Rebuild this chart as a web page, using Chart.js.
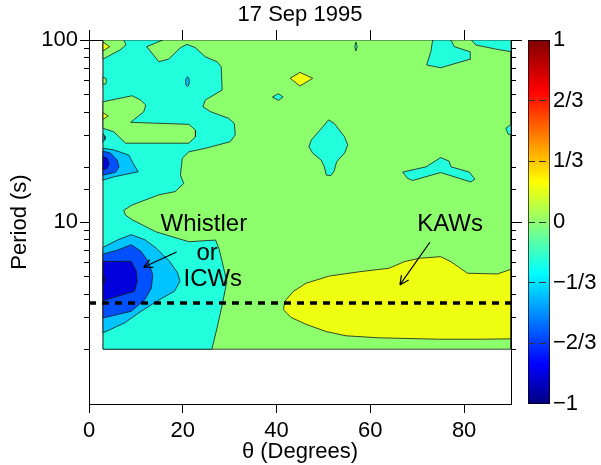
<!DOCTYPE html>
<html>
<head>
<meta charset="utf-8">
<script src="https://cdn.jsdelivr.net/npm/chart.js@4.4.1/dist/chart.umd.min.js"></script>
<style>
  html, body { margin: 0; padding: 0; overflow: hidden; background: #fff; width: 601px; height: 465px; }
  #main { position: absolute; left: 0; top: 0; }
  #bar { position: absolute; left: 515px; top: 0; }
</style>
</head>
<body>
<canvas id="main" width="601" height="465"></canvas>
<canvas id="bar" width="120" height="465"></canvas>
<script>
// contour regions: [theta (deg), period (s)]
const dataArea = [[3, 2], [3, 100], [90, 100], [90, 2]];
const cyanLeft = [[3, 100], [15.7, 100], [12.3, 91.9], [14.9, 76.0], [17.0, 78.6], [19.5, 90.7], [20.9, 94.7], [22.7, 90.7], [24.8, 80.9], [27.3, 76.0], [28.2, 71.3], [28.4, 53.1], [24.8, 46.8], [24.3, 43.0], [25.9, 40.4], [29.8, 37.1], [31.0, 34.8], [31.2, 30.1], [30.1, 27.6], [24.8, 25.4], [21.3, 24.3], [19.9, 22.4], [19.5, 18.1], [20.2, 16.3], [18.4, 14.7], [14.9, 14.1], [9.2, 12.4], [7.4, 11.6], [7.8, 10.9], [9.2, 10.3], [14.2, 8.85], [21.3, 7.79], [27.0, 7.96], [27.7, 7.17], [28.4, 6.05], [29.4, 4.70], [28.4, 3.50], [27.3, 2.61], [26.2, 2], [3, 2]];
const greenCorner = [[3, 100], [7.4, 100], [7.9, 93.9], [6.6, 88.1], [3, 78.6]];
const yellowCorner = [[3, 97.3], [4.4, 91.9], [3, 87.2]];
const greenSpeck = [[3, 62.5], [3.6, 61.5], [3.7, 59], [3.6, 57.5], [3, 57]];
const greenTongue = [[3, 45.8], [9.2, 49.4], [11.0, 46.8], [12.1, 43.9], [11.7, 40.4], [8.9, 35.3], [21.3, 34.4], [22.7, 32.0], [22.7, 29.4], [21.3, 27.1], [7.8, 27.1], [5.3, 31.3], [3, 32.7]];
const yellowTongue = [[3, 39.9], [4.1, 38.2], [3, 36.7]];
const blueSliver = [[3, 30.6], [3.4, 29.6], [3.4, 28.4], [3, 27.6]];
const blueOval = [[21.0, 62.9], [21.3, 61.4], [21.4, 59.0], [21.3, 56.6], [21.0, 55.4], [20.7, 56.6], [20.6, 59.0], [20.7, 61.4]];
const cyanDiamond = [[39.1, 48.6], [40.4, 50.7], [41.4, 48.6], [40.4, 46.6]];
const upperLightBlue = [[3, 25.4], [5.3, 24.9], [8.5, 23.3], [9.6, 20.6], [10.5, 18.9], [7.1, 18.1], [5.3, 17.7], [3, 17.0]];
const upperBlue = [[3, 24.5], [4.6, 23.9], [6.0, 21.9], [6.4, 20.1], [5.7, 18.8], [3.9, 18.3], [3, 18.1]];
const upperDarkBlue = [[3, 22.9], [3.9, 22.4], [4.3, 21.0], [3.9, 19.7], [3, 19.3]];
const lowerLightBlue = [[3, 7.26], [6.2, 7.99], [9.0, 8.52], [11.9, 7.99], [14.3, 7.20], [17.2, 6.08], [18.9, 5.25], [19.4, 4.72], [18.2, 4.16], [15.0, 3.74], [11.1, 3.23], [7.6, 2.79], [3, 2.46]];
const lowerBlue = [[3, 6.67], [6.0, 7.0], [9.0, 7.50], [11.1, 6.90], [12.6, 6.08], [13.6, 5.13], [13.3, 4.34], [11.9, 3.74], [9.0, 3.23], [3, 2.97]];
const lowerDarkBlue = [[3, 6.08], [9.0, 6.08], [10.1, 5.36], [10.3, 4.72], [9.7, 4.16], [3, 3.70]];
const lowerCore = [[3, 5.14], [3.7, 4.82], [3, 4.56]];
const cyanTopBlob = [[73.3, 100], [72.9, 86.2], [72.0, 72.9], [75.0, 70.4], [81.4, 78.6], [81.3, 86.2], [77.9, 91.9], [77.2, 100]];
const cyanTopCorner = [[81.6, 100], [82.5, 93.9], [86.7, 89.2], [90, 86.2], [90, 100]];
const cyanTiny = [[56.7, 91.9], [56.9, 97.5], [57.2, 91.9], [56.9, 87.0]];
const yellowDiamond = [[42.9, 61.6], [45.0, 66.4], [47.7, 61.6], [45.0, 55.9]];
const cyanMid = [[51.1, 36.4], [49.9, 33.4], [47.4, 28.2], [46.9, 25.9], [47.7, 23.9], [49.5, 21.9], [50.2, 20.1], [50.6, 18.1], [51.6, 18.0], [52.3, 19.1], [52.8, 21.4], [54.5, 23.9], [55.2, 26.5], [54.5, 29.4], [52.3, 34.8]];
const cyanChevron = [[66.9, 18.8], [71.9, 20.1], [75.0, 22.6], [76.8, 21.6], [77.2, 20.1], [81.1, 18.8], [82.3, 17.2], [81.4, 16.6], [75.0, 18.7], [69.0, 16.9], [67.9, 17.4]];
const cyanEdge = [[90, 34.4], [88.9, 32.7], [89.4, 30.4], [90, 30.1]];
const yellowKaw = [[41.7, 3.65], [43.5, 4.14], [46.3, 4.61], [51.3, 5.05], [57.7, 5.33], [64.0, 5.57], [67.2, 6.05], [70.4, 6.32], [75.0, 6.45], [77.2, 6.05], [80.7, 5.23], [87.1, 5.18], [90, 5.50], [90, 2.28], [83.2, 2.27], [74.7, 2.27], [61.9, 2.31], [54.8, 2.37], [50.6, 2.50], [46.3, 2.74], [43.1, 2.99], [41.5, 3.29]];

// painted in this order, later on top
const regions = [
  [dataArea, "green"], [cyanLeft, "cyan"], [greenCorner, "green"], [yellowCorner, "yellow"],
  [greenSpeck, "green"], [greenTongue, "green"], [yellowTongue, "yellow"], [blueSliver, "lightBlue"],
  [blueOval, "lightBlue"], [cyanDiamond, "cyan"],
  [upperLightBlue, "lightBlue"], [upperBlue, "blue"], [upperDarkBlue, "darkBlue"],
  [lowerLightBlue, "lightBlue"], [lowerBlue, "blue"], [lowerDarkBlue, "darkBlue"], [lowerCore, "navy"],
  [cyanTopBlob, "cyan"], [cyanTopCorner, "cyan"], [cyanTiny, "cyan"], [yellowDiamond, "yellow"],
  [cyanMid, "cyan"], [cyanChevron, "cyan"], [cyanEdge, "cyan"], [yellowKaw, "yellow"]
];

const levelColors = {
  yellow: "#eeff12", green: "#8dff6d", cyan: "#22ffdd", lightBlue: "#00c4ff",
  blue: "#0050ff", darkBlue: "#0000dc", navy: "#0000a8"
};

const cutoffPeriod = 3.59;
const xTicks = [0, 20, 40, 60, 80];
const yLabelled = [10, 100];
const barTicks = [-1, -2 / 3, -1 / 3, 0, 1 / 3, 2 / 3, 1];
const barLabels = ["\u22121", "\u22122/3", "\u22121/3", "0", "1/3", "2/3", "1"];
const notes = [
  { text: "Whistler", at: [24.5, 8.96] },
  { text: "or", at: [25.2, 6.22] },
  { text: "ICWs", at: [26.4, 4.47] },
  { text: "KAWs", at: [77.0, 8.92] }
];
const arrows = [
  { from: [18.7, 6.84], to: [11.6, 5.64] },
  { from: [72.7, 7.74], to: [66.3, 4.51] }
];

const FONT = "'Liberation Sans', Arial, Helvetica, sans-serif";
Chart.defaults.font.family = FONT;
Chart.defaults.font.size = 22;
Chart.defaults.color = "#000";

const toPoints = (pts) => pts.concat([pts[0]]).map(p => ({ x: p[0], y: p[1] }));

let datasets = regions.map(([pts, level], i) => ({
  data: toPoints(pts),
  showLine: true,
  fill: "shape",
  backgroundColor: levelColors[level],
  borderColor: "#1a1a1a",
  borderWidth: 0.8,
  pointRadius: 0,
  tension: 0,
  order: regions.length + 1 - i
}));

datasets.push({
  data: [{ x: 0, y: cutoffPeriod }, { x: 90, y: cutoffPeriod }],
  showLine: true,
  fill: false,
  borderColor: "#000",
  borderWidth: 3.5,
  borderDash: [7, 6],
  pointRadius: 0,
  order: 0
});

const annotate = {
  id: "annotate",
  afterDatasetsDraw(chart) {
    const { ctx } = chart;
    const x = chart.scales.x, y = chart.scales.y;
    ctx.save();
    ctx.fillStyle = "#000";
    ctx.strokeStyle = "#000";
    ctx.font = "24px " + FONT;
    ctx.textAlign = "center";
    ctx.textBaseline = "alphabetic";
    notes.forEach(n => ctx.fillText(n.text, x.getPixelForValue(n.at[0]), y.getPixelForValue(n.at[1])));
    ctx.lineWidth = 1.2;
    arrows.forEach(a => {
      const x0 = x.getPixelForValue(a.from[0]), y0 = y.getPixelForValue(a.from[1]);
      const x1 = x.getPixelForValue(a.to[0]), y1 = y.getPixelForValue(a.to[1]);
      const ang = Math.atan2(y1 - y0, x1 - x0);
      ctx.beginPath();
      ctx.moveTo(x0, y0);
      ctx.lineTo(x1, y1);
      for (const s of [-1, 1]) {
        ctx.moveTo(x1, y1);
        ctx.lineTo(x1 - 10 * Math.cos(ang + s * 0.45), y1 - 10 * Math.sin(ang + s * 0.45));
      }
      ctx.stroke();
    });
    ctx.restore();
  }
};

const isDecade = v => Math.abs(Math.log10(v) - Math.round(Math.log10(v))) < 1e-6;
const axisBorder = { display: true, color: "#000", width: 1 };

function logAxis(position, weight, tickLength, width, keep, labels, title) {
  return {
    type: "logarithmic",
    position: position,
    weight: weight,
    min: 1,
    max: 100,
    border: axisBorder,
    grid: { drawOnChartArea: false, drawTicks: true, tickLength: tickLength, tickColor: "#000", tickWidth: 1 },
    ticks: { display: labels, padding: 2, autoSkip: false, callback: v => String(Math.round(v)) },
    afterBuildTicks: s => { s.ticks = s.ticks.filter(t => keep(t.value)); },
    afterFit: s => { s.width = width; },
    title: title
  };
}

new Chart(document.getElementById("main"), {
  type: "scatter",
  data: { datasets: datasets },
  options: {
    responsive: false,
    animation: false,
    events: [],
    layout: { padding: { left: 0, right: 78, top: 0, bottom: 0 } },
    plugins: { legend: { display: false }, tooltip: { enabled: false } },
    scales: {
      x: {
        type: "linear",
        position: "bottom",
        min: 0,
        max: 90,
        border: axisBorder,
        grid: { drawOnChartArea: false, tickLength: 9, tickColor: "#000" },
        ticks: { stepSize: 20, includeBounds: false, padding: 5, autoSkip: false },
        afterBuildTicks: s => { s.ticks = xTicks.map(v => ({ value: v })); },
        afterFit: s => { s.height = 61; },
        title: { display: true, text: "\u03b8 (Degrees)", padding: { top: 0, bottom: 0 } }
      },
      xTop: {
        type: "linear",
        position: "top",
        min: 0,
        max: 90,
        border: axisBorder,
        grid: { drawOnChartArea: false, tickLength: 10, tickColor: "#000" },
        ticks: { display: false },
        afterBuildTicks: s => { s.ticks = xTicks.map(v => ({ value: v })); },
        afterFit: s => { s.height = 40; },
        title: { display: true, text: "17 Sep 1995", padding: { top: 2, bottom: 0 } }
      },
      y: logAxis("left", 1, 9, 89, v => yLabelled.some(d => Math.abs(d - v) < 1e-6), true,
        { display: true, text: "Period (s)", padding: { top: 7, bottom: 0 } }),
      yMinor: logAxis("left", 0, 5, 0, v => !isDecade(v), false, { display: false }),
      yRight: logAxis("right", 1, 11, 12, v => yLabelled.some(d => Math.abs(d - v) < 1e-6), false, { display: false }),
      yRightMinor: logAxis("right", 0, 5, 0, v => !isDecade(v), false, { display: false })
    }
  },
  plugins: [annotate]
});

// colour bar
const jetStops = [[0, "#00007f"], [0.11, "#0000ff"], [0.36, "#00ffff"], [0.61, "#ffff00"], [0.86, "#ff0000"], [1, "#7f0000"]];

new Chart(document.getElementById("bar"), {
  type: "bar",
  data: {
    labels: [""],
    datasets: [{
      data: [[-1, 1]],
      backgroundColor: (c) => {
        const area = c.chart.chartArea;
        if (!area) return "#80ff80";
        const g = c.chart.ctx.createLinearGradient(0, area.bottom, 0, area.top);
        jetStops.forEach(([t, col]) => g.addColorStop(t, col));
        return g;
      },
      borderColor: "#000",
      borderWidth: 1,
      borderSkipped: false,
      barPercentage: 1,
      categoryPercentage: 1
    }]
  },
  options: {
    responsive: false,
    animation: false,
    events: [],
    layout: { padding: { left: 13, right: 0, top: 40, bottom: 61 } },
    plugins: { legend: { display: false }, tooltip: { enabled: false } },
    scales: {
      x: { display: false },
      y: {
        position: "right",
        min: -1,
        max: 1,
        border: { display: false, dash: [7, 4] },
        grid: {
          drawTicks: false,
          z: 1,
          lineWidth: 1,
          color: c => (c.tick && Math.abs(c.tick.value) < 0.99 ? "#333" : "rgba(0,0,0,0)")
        },
        ticks: {
          padding: 3,
          autoSkip: false,
          callback: (v, i) => barLabels[i]
        },
        afterBuildTicks: s => { s.ticks = barTicks.map(v => ({ value: v })); },
        afterFit: s => { s.width = 85; }
      }
    }
  }
});
</script>
</body>
</html>
